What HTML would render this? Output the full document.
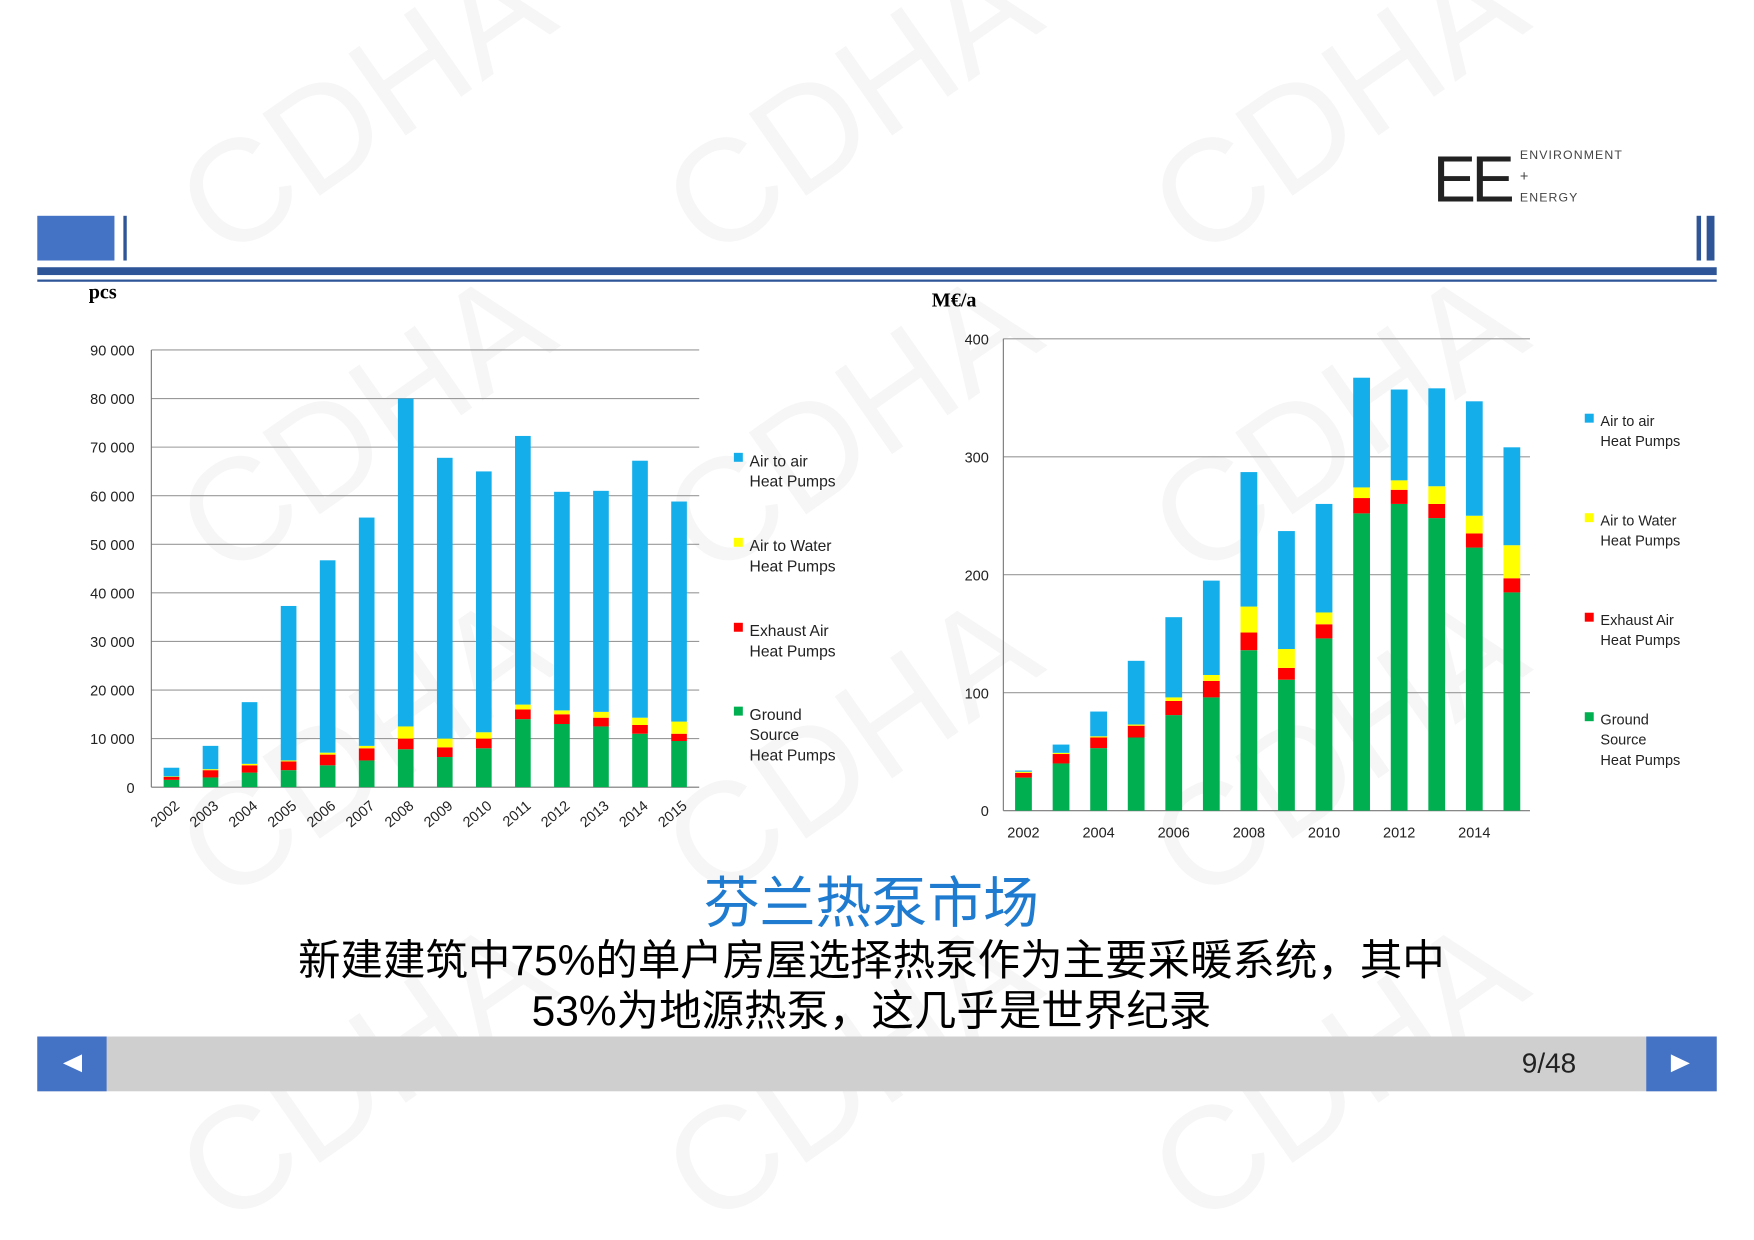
<!DOCTYPE html>
<html><head><meta charset="utf-8"><style>
html,body{margin:0;padding:0;background:#fff;width:1754px;height:1240px;overflow:hidden}
svg{display:block}
text{font-family:"Liberation Sans","Noto Sans CJK SC",sans-serif}
</style></head><body>
<svg id="s" width="1754" height="1240" viewBox="0 0 1568 1109" xmlns="http://www.w3.org/2000/svg">
<g fill="#f6f6f6" font-size="130">
<text transform="translate(200,235) rotate(-35)">CDHA</text>
<text transform="translate(635,235) rotate(-35)">CDHA</text>
<text transform="translate(1070,235) rotate(-35)">CDHA</text>
<text transform="translate(200,520) rotate(-35)">CDHA</text>
<text transform="translate(635,520) rotate(-35)">CDHA</text>
<text transform="translate(1070,520) rotate(-35)">CDHA</text>
<text transform="translate(200,810) rotate(-35)">CDHA</text>
<text transform="translate(635,810) rotate(-35)">CDHA</text>
<text transform="translate(1070,810) rotate(-35)">CDHA</text>
<text transform="translate(200,1100) rotate(-35)">CDHA</text>
<text transform="translate(635,1100) rotate(-35)">CDHA</text>
<text transform="translate(1070,1100) rotate(-35)">CDHA</text>
</g>
<rect x="33" y="193" width="69" height="40" fill="#4472C4"/>
<rect x="110" y="193" width="3" height="40" fill="#2E5597"/>
<rect x="1517" y="193" width="4" height="40" fill="#2E5597"/>
<rect x="1526" y="193" width="7" height="40" fill="#2E5597"/>
<rect x="33" y="239" width="1502" height="7" fill="#2E5597"/>
<rect x="33" y="250" width="1502" height="2" fill="#2E5597"/>
<text x="1281" y="180" font-size="58" fill="#222" letter-spacing="-4">EE</text>
<text x="1359" y="142" font-size="11" fill="#444" letter-spacing="1">ENVIRONMENT</text>
<text x="1359" y="162" font-size="13" fill="#444">+</text>
<text x="1359" y="180" font-size="11" fill="#444" letter-spacing="1">ENERGY</text>
<text x="79" y="267" font-size="18" font-weight="bold" style="font-family:'Liberation Serif',serif" fill="#000">pcs</text>
<text x="833" y="274" font-size="18" font-weight="bold" style="font-family:'Liberation Serif',serif" fill="#000">M€/a</text>
<g id="c"></g>
<text x="779" y="825" text-anchor="middle" font-size="50" fill="#1E7BD0">芬兰热泵市场</text>
<text x="779" y="872" text-anchor="middle" font-size="38" fill="#000">新建建筑中75%的单户房屋选择热泵作为主要采暖系统，其中</text>
<text x="779" y="917" text-anchor="middle" font-size="38" fill="#000">53%为地源热泵，这几乎是世界纪录</text>
<rect x="33" y="927" width="1502" height="49" fill="#D0CFD0"/>
<rect x="33" y="927" width="62" height="49" fill="#4472C4"/>
<rect x="1472" y="927" width="63" height="49" fill="#4472C4"/>
<polygon points="56,951 73,943 73,959" fill="#fff"/>
<polygon points="1511,951 1494,943 1494,959" fill="#fff"/>
<text x="1385" y="959" text-anchor="middle" font-size="25" fill="#222">9/48</text>
</svg>
<script>
var g=document.getElementById('c'),h='';
var C={b:'#14AEEB',y:'#FFFF00',r:'#FF0000',g:'#00AF50'};
function R(x,y,w,hh,f){h+='<rect x="'+x+'" y="'+y+'" width="'+w+'" height="'+hh+'" fill="'+f+'"/>';}
function T(x,y,s,t,a,tr){h+='<text x="'+x+'" y="'+y+'" font-size="'+s+'" fill="#222"'+(a?' text-anchor="'+a+'"':'')+(tr?' transform="'+tr+'"':'')+'>'+t+'</text>';}
var L=[[1500,600,100,4000],[2000,1500,200,8500],[3000,1500,300,17500],[3500,1800,200,37300],[4500,2200,400,46700],[5500,2500,500,55500],[7800,2200,2500,80000],[6200,2000,1800,67800],[8000,2000,1300,65000],[14000,2000,1000,72300],[13000,2000,800,60800],[12500,1800,1200,61000],[11000,1800,1500,67200],[9500,1500,2500,58800]];
var y0=704,k=(704-313)/90000;
for(var i=0;i<=9;i++){var y=y0-i*10000*k;h+='<line x1="135" x2="625" y1="'+y+'" y2="'+y+'" stroke="'+(i?'#999':'#777')+'"/>';T(120,y+5,13,i?(i*10)+' 000':'0','end');}
h+='<line x1="135" x2="135" y1="313" y2="704" stroke="#777"/>';
L.forEach(function(d,i){var cx=153+i*34.92,x=cx-7,w=14,yy=y0;
 [[d[0],C.g],[d[1],C.r],[d[2],C.y]].forEach(function(p){var hh=p[0]*k;R(x,yy-hh,w,hh,p[1]);yy-=hh;});
 var top=y0-d[3]*k;R(x,top,w,yy-top,C.b);
 T(cx+8,722,13,2002+i,'end','rotate(-40,'+(cx+8)+',722)');});
var lg=[[412,['Air to air','Heat Pumps'],C.b],[488,['Air to Water','Heat Pumps'],C.y],[564,['Exhaust Air','Heat Pumps'],C.r],[639,['Ground','Source','Heat Pumps'],C.g]];
lg.forEach(function(l){R(656,l[0]-7,8,8,l[2]);l[1].forEach(function(s,j){T(670,l[0]+5+j*18,14,s);});});
var Rr=[[28,4,1,34],[40,8,1,56],[53,9,1,84],[62,10,1,127],[81,12,3,164],[96,14,5,195],[136,15,22,287],[111,10,16,237],[146,12,10,260],[252,13,9,367],[260,12,8,357],[248,12,15,358],[223,12,15,347],[185,12,28,308]];
var z=725,q=(725-303)/400;
for(var i=0;i<=4;i++){var y=z-i*100*q;h+='<line x1="897" x2="1368" y1="'+y+'" y2="'+y+'" stroke="'+(i?'#999':'#777')+'"/>';T(884,y+5,13,i*100,'end');}
h+='<line x1="897" x2="897" y1="303" y2="725" stroke="#777"/>';
Rr.forEach(function(d,i){var cx=915+i*33.6,x=cx-7.5,w=15,yy=z;
 [[d[0],C.g],[d[1],C.r],[d[2],C.y]].forEach(function(p){var hh=p[0]*q;R(x,yy-hh,w,hh,p[1]);yy-=hh;});
 var top=z-d[3]*q;R(x,top,w,yy-top,C.b);
 if(i%2==0)T(cx,749,13,2002+i,'middle');});
var lg2=[[376,['Air to air','Heat Pumps'],C.b],[465,['Air to Water','Heat Pumps'],C.y],[554,['Exhaust Air','Heat Pumps'],C.r],[643,['Ground','Source','Heat Pumps'],C.g]];
lg2.forEach(function(l){R(1417,l[0]-6,8,8,l[2]);l[1].forEach(function(s,j){T(1431,l[0]+5+j*18,13,s);});});
g.innerHTML=h;
</script>
</body></html>
